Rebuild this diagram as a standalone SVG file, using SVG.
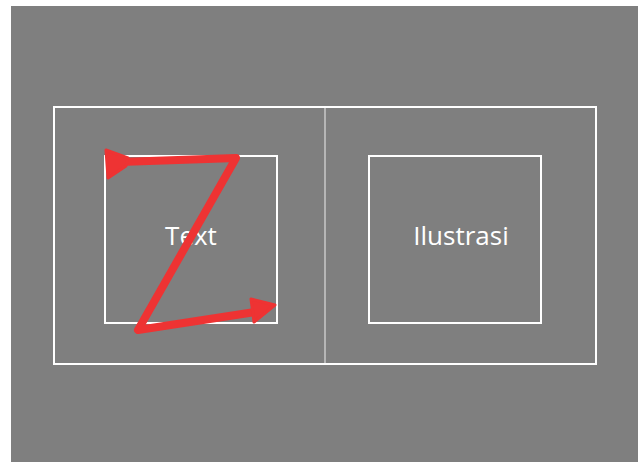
<svg xmlns="http://www.w3.org/2000/svg" width="638" height="462" viewBox="0 0 638 462">
<style>
.box{fill:none;stroke:#ffffff;stroke-width:2}
.lbl{font-family:"Open Sans","Liberation Sans",sans-serif;font-size:26px;fill:#ffffff;text-anchor:middle}
.red{fill:none;stroke:#ee3333;stroke-width:8;stroke-linecap:round;stroke-linejoin:round}
.redh{fill:#ee3333;stroke:#ee3333;stroke-width:3;stroke-linejoin:round}
</style>
<rect width="638" height="462" fill="#ffffff"/>
<rect x="11" y="6" width="627" height="456" fill="#7f7f7f"/>
<g id="frame">
<rect class="box" x="54" y="107" width="542" height="257"/>
<line x1="325" y1="108" x2="325" y2="363" stroke="#c8c8c8" stroke-width="1.5"/>
</g>
<g id="text-node">
<rect class="box" x="105" y="156" width="172" height="167"/>
<text class="lbl" x="191" y="245">Text</text>
</g>
<g id="ilustrasi-node">
<rect class="box" x="369" y="156" width="172" height="167"/>
<text class="lbl" x="461" y="245">Ilustrasi</text>
</g>
<g id="connectors">
<path class="red" d="M120,162 L236,158 L138,330 L262,311"/>
<polygon class="redh" points="106,150 128,158 126,166 108,178"/>
<polygon class="redh" points="251,299 275,305 254,322"/>
</g>
</svg>
